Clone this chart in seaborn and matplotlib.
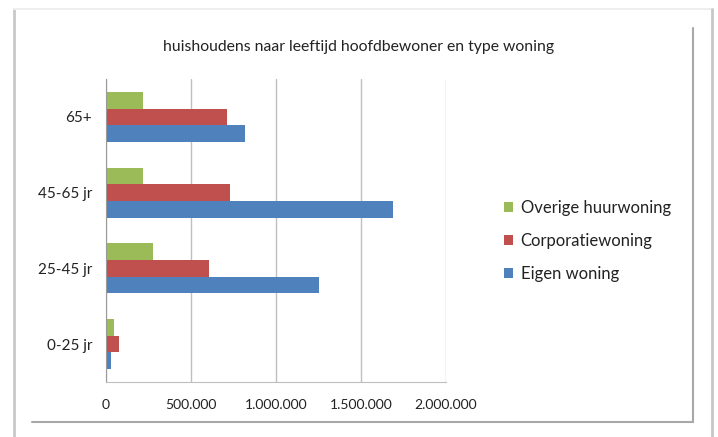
import numpy as np
import pandas as pd
import matplotlib
matplotlib.use("Agg")
import matplotlib.pyplot as plt
from matplotlib.lines import Line2D
from matplotlib.patches import Patch
import seaborn as sns

# data
leeftijd = ['65+', '45-65 jr', '25-45 jr', '0-25 jr']
series = ['Overige huurwoning', 'Corporatiewoning', 'Eigen woning']
overige = [217000, 217000, 274000, 45000]
corporatie = [713000, 729000, 604000, 78000]
eigen = [817000, 1690000, 1251000, 29000]
x_ticks = [0, 500000, 1000000, 1500000, 2000000]
x_labels = ['0', '500.000', '1.000.000', '1.500.000', '2.000.000']
colors = ['#9BBB59', '#C0504D', '#4F81BD']

df = pd.DataFrame({
    'leeftijd': leeftijd * 3,
    'type': np.repeat(series, len(leeftijd)),
    'aantal': overige + corporatie + eigen,
})

sns.set_style('white')
plt.rcParams['font.family'] = ['Lato', 'DejaVu Sans']

fig = plt.figure(figsize=(7.18, 4.37), dpi=100)
ax = fig.add_axes([106 / 718, 1 - 382 / 437, 340 / 718, 303 / 437])

sns.barplot(data=df, y='leeftijd', x='aantal', hue='type', order=leeftijd,
            hue_order=series, palette=colors, orient='h', width=0.66,
            gap=0, errorbar=None, saturation=1, linewidth=0, ax=ax, legend=False)

ax.set_xlim(0, 2000000)
ax.set_ylim(3.5, -0.5)
ax.set_xticks(x_ticks)
ax.set_xticklabels(x_labels)
ax.set_xlabel('')
ax.set_ylabel('')
ax.xaxis.grid(True, color='#bfbfbf', linewidth=1)
ax.set_axisbelow(True)
for s in ['top', 'right']:
    ax.spines[s].set_visible(False)
ax.spines['left'].set_color('#9a9a9a')
ax.spines['bottom'].set_color('#bfbfbf')
ax.tick_params(axis='y', length=0, labelsize=11, colors='#222222', pad=10)
ax.tick_params(axis='x', length=0, labelsize=10, colors='#222222', pad=12)

fig.text(359 / 718, 1 - 47 / 437, 'huishoudens naar leeftijd hoofdbewoner en type woning',
         ha='center', va='center', fontsize=11.3, color='#222222')

handles = [Patch(facecolor=c, edgecolor='none') for c in colors]
fig.legend(handles, series, loc='center left', bbox_to_anchor=(489 / 718, 1 - 241 / 437),
           frameon=False, fontsize=12, handlelength=0.55, handleheight=0.55,
           handletextpad=0.45, labelspacing=1.0, labelcolor='#222222')

# chart frame with shadow-like edges
fig.add_artist(Line2D([14 / 718, 14 / 718], [0, 1 - 9 / 437], color='#c8c8c8', lw=2))
fig.add_artist(Line2D([14 / 718, 712 / 718], [1 - 9 / 437, 1 - 9 / 437], color='#eeeeee', lw=1.5))
fig.add_artist(Line2D([712 / 718, 712 / 718], [0, 1 - 9 / 437], color='#c8c8c8', lw=2))
fig.add_artist(Line2D([693 / 718, 693 / 718], [1 - 422 / 437, 1 - 28 / 437], color='#a8a8a8', lw=1.5))
fig.add_artist(Line2D([32 / 718, 693 / 718], [1 - 422 / 437, 1 - 422 / 437], color='#a8a8a8', lw=1.5))

fig.savefig('out.png', dpi=100)
